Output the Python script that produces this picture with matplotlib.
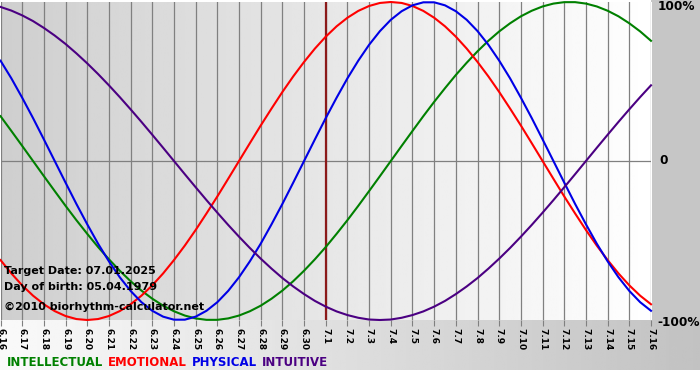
import numpy as np
import matplotlib
matplotlib.use("Agg")
import matplotlib.pyplot as plt

# day labels along the x axis (month.day)
days = ["6.16", "6.17", "6.18", "6.19", "6.20", "6.21", "6.22", "6.23", "6.24", "6.25",
        "6.26", "6.27", "6.28", "6.29", "6.30", "7.1", "7.2", "7.3", "7.4", "7.5",
        "7.6", "7.7", "7.8", "7.9", "7.10", "7.11", "7.12", "7.13", "7.14", "7.15", "7.16"]
target_day = "7.1"

# cycle values in percent, read every half day from 6.16 to 7.16
physical = [63.1, 52.0, 39.8, 27.0, 13.6, 0, -13.6, -27.0, -39.8, -52.0, -63.1, -73.1,
            -81.7, -88.8, -94.2, -97.9, -99.8, -99.8, -97.9, -94.2, -88.8, -81.7, -73.1,
            -63.1, -52.0, -39.8, -27.0, -13.6, 0, 13.6, 27.0, 39.8, 52.0, 63.1, 73.1, 81.7,
            88.8, 94.2, 97.9, 99.8, 99.8, 97.9, 94.2, 88.8, 81.7, 73.1, 63.1, 52.0, 39.8,
            27.0, 13.6, 0, -13.6, -27.0, -39.8, -52.0, -63.1, -73.1, -81.7, -88.8, -94.2]
emotional = [-62.3, -70.7, -78.2, -84.7, -90.1, -94.4, -97.5, -99.4, -100, -99.4, -97.5,
             -94.4, -90.1, -84.7, -78.2, -70.7, -62.3, -53.2, -43.4, -33.0, -22.3, -11.2,
             0, 11.2, 22.3, 33.0, 43.4, 53.2, 62.3, 70.7, 78.2, 84.7, 90.1, 94.4, 97.5, 99.4,
             100, 99.4, 97.5, 94.4, 90.1, 84.7, 78.2, 70.7, 62.3, 53.2, 43.4, 33.0, 22.3,
             11.2, 0, -11.2, -22.3, -33.0, -43.4, -53.2, -62.3, -70.7, -78.2, -84.7, -90.1]
intellectual = [28.2, 18.9, 9.5, 0, -9.5, -18.9, -28.2, -37.2, -45.8, -54.1, -61.8, -69.0,
                -75.6, -81.5, -86.6, -91.0, -94.5, -97.2, -99.0, -99.9, -99.9, -99.0, -97.2,
                -94.5, -91.0, -86.6, -81.5, -75.6, -69.0, -61.8, -54.1, -45.8, -37.2, -28.2,
                -18.9, -9.5, 0, 9.5, 18.9, 28.2, 37.2, 45.8, 54.1, 61.8, 69.0, 75.6, 81.5,
                86.6, 91.0, 94.5, 97.2, 99.0, 99.9, 99.9, 99.0, 97.2, 94.5, 91.0, 86.6, 81.5, 75.6]
intuitive = [96.9, 94.6, 91.6, 88.0, 83.7, 78.9, 73.6, 67.7, 61.4, 54.7, 47.6, 40.2, 32.5,
             24.6, 16.5, 8.3, 0, -8.3, -16.5, -24.6, -32.5, -40.2, -47.6, -54.7, -61.4,
             -67.7, -73.6, -78.9, -83.7, -88.0, -91.6, -94.6, -96.9, -98.6, -99.7, -100,
             -99.7, -98.6, -96.9, -94.6, -91.6, -88.0, -83.7, -78.9, -73.6, -67.7, -61.4,
             -54.7, -47.6, -40.2, -32.5, -24.6, -16.5, -8.3, 0, 8.3, 16.5, 24.6, 32.5, 40.2, 47.6]

series = [("INTELLECTUAL", intellectual, "#008000"),
          ("EMOTIONAL", emotional, "#ff0000"),
          ("PHYSICAL", physical, "#0000e6"),
          ("INTUITIVE", intuitive, "#4b0082")]

W, H = 700, 380
fig = plt.figure(figsize=(W / 100, H / 100), dpi=100)
fig.patch.set_facecolor("white")

# background panels (right margin + bottom gradient band)
bg = fig.add_axes([0, 0, 1, 1], zorder=-10)
bg.set_xlim(0, W)
bg.set_ylim(H, 0)
bg.axis("off")
band = np.linspace(0.98, 0.76, 256)[None, :]
bg.imshow(band, cmap="gray", vmin=0, vmax=1, extent=(0, W, 370, 320), aspect="auto")
bg.fill_between([651, W], 0, 320, color="#c6c6c6", lw=0)

x0, x1 = 0.5, 651
y_top, y_bot = 2, 320
ax = fig.add_axes([x0 / W, 1 - y_bot / H, (x1 - x0) / W, (y_bot - y_top) / H])
x = np.arange(len(days))
xs = np.arange(len(physical)) * 0.5
ax.set_xlim(0, len(days) - 1)
ax.set_ylim(-100, 100)

grad = np.linspace(0.81, 1.0, 256)[None, :]
ax.imshow(grad, cmap="gray", vmin=0, vmax=1, extent=(0, len(days) - 1, -100, 100),
          aspect="auto", zorder=0)

for xi in x:
    ax.axvline(xi, color="#808080", lw=0.9, zorder=1)
ax.axhline(0, color="#808080", lw=0.9, zorder=1)
ax.axvline(days.index(target_day), color="#8b1a1a", lw=1.6, zorder=3)

for name, vals, col in series:
    ax.plot(xs, vals, color=col, lw=1.5, zorder=4, clip_on=False)

for s in ax.spines.values():
    s.set_visible(False)
ax.set_yticks([])
ax.set_xticks(x)
ax.set_xticklabels(days, rotation=-90, fontsize=6.5, fontweight="bold")
ax.tick_params(axis="x", length=4, color="#808080", pad=2)

fs = 8
ax.text(0.005, 0.154, "Target Date: 07.01.2025", transform=ax.transAxes,
        fontsize=fs, fontweight="bold", va="center", zorder=5)
ax.text(0.005, 0.104, "Day of birth: 05.04.1979", transform=ax.transAxes,
        fontsize=fs, fontweight="bold", va="center", zorder=5)
ax.text(0.005, 0.042, "\u00a92010 biorhythm-calculator.net", transform=ax.transAxes,
        fontsize=fs, fontweight="bold", va="center", zorder=5)

# right side percent labels
fig.text(658 / W, 1 - 7 / H, "100%", fontsize=8.7, fontweight="bold", va="center")
fig.text(659 / W, 1 - 161 / H, "0", fontsize=8.7, fontweight="bold", va="center")
fig.text(657 / W, 1 - 322 / H, "-100%", fontsize=8.7, fontweight="bold", va="center")

# coloured legend row
xpos = 7
for name, vals, col in series:
    t = fig.text(xpos / W, 1 - 362 / H, name, color=col, fontsize=8.5, fontweight="bold",
                 va="center")
    fig.canvas.draw()
    bb = t.get_window_extent()
    xpos = bb.x1 + 5

fig.savefig("out.png", dpi=100)
